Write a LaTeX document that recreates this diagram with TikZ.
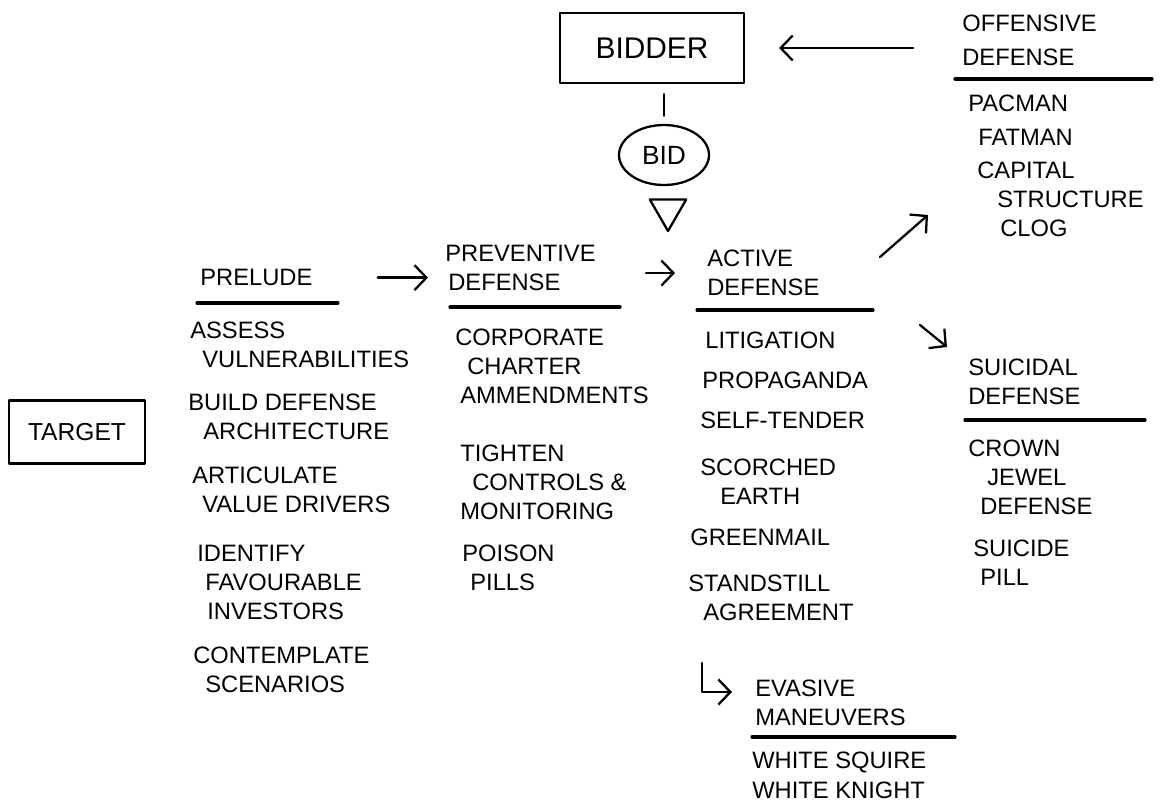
\documentclass[tikz,border=0pt]{standalone}
\usepackage{fontspec}
\setmainfont{Liberation Sans}
\usetikzlibrary{arrows.meta,shapes.geometric}

\tikzset{
  pen/.style={line width=1.3pt, line cap=round, line join=round},
  txt/.style={anchor=north west, inner sep=0pt, align=left,
    font=\fontsize{13.5}{16.4}\selectfont},
  rule/.style={line width=1.8pt, line cap=round},
  arr/.style={pen, -{Straight Barb[length=0.24cm, width=0.5cm]}},
  boxed/.style={draw, pen, inner sep=0pt},
}

\begin{document}
\begin{tikzpicture}[x=0.02cm, y=-0.02cm]
  \useasboundingbox (0,0) rectangle (1164,809);
  % bidder, bid, target
  \node[boxed, minimum width=3.68cm, minimum height=1.4cm,
    font=\fontsize{17}{20}\selectfont] (bidder) at (652,48) {BIDDER};
  \node[boxed, ellipse, minimum width=1.8cm, minimum height=1.2cm,
    font=\fontsize{15}{18}\selectfont] (bid) at (664,155) {BID};
  \node[boxed, regular polygon, regular polygon sides=3, shape border rotate=180,
    minimum size=0.84cm] (tri) at (668,210) {};
  \draw[pen, shorten <=0.2cm, shorten >=0.16cm] (bid.north |- bidder.south) -- (bid.north);
  \node[boxed, minimum width=2.72cm, minimum height=1.26cm,
    font=\fontsize{14}{17}\selectfont] (target) at (77,432) {TARGET};

  % headings
  \node[txt] (prelude) at (200,269) {PRELUDE};
  \node[txt] (prev) at (445,245) {PREVENTIVE\\\hspace*{0.06cm}DEFENSE};
  \node[txt] (act) at (707,250) {ACTIVE\\DEFENSE};
  \node[txt] (off) at (962,15) {OFFENSIVE\\[0.1cm]DEFENSE};
  \node[txt] (sui) at (968,359) {SUICIDAL\\DEFENSE};
  \node[txt] (eva) at (755,680) {EVASIVE\\MANEUVERS};
  \draw[rule] (197,303) -- (338,303);
  \draw[rule] (450,307) -- (620,307);
  \draw[rule] (697,310) -- (873,310);
  \draw[rule] (955,79) -- (1152,79);
  \draw[rule] (965,420) -- (1145,420);
  \draw[rule] (752,737) -- (955,737);

  % prelude
  \node[txt] (pre1) at (190,322) {ASSESS\\\hspace*{0.24cm}VULNERABILITIES};
  \node[txt] (pre2) at (188,394) {BUILD DEFENSE\\\hspace*{0.3cm}ARCHITECTURE};
  \node[txt] (pre3) at (192,467) {ARTICULATE\\\hspace*{0.2cm}VALUE DRIVERS};
  \node[txt] (pre4) at (197,545) {IDENTIFY\\\hspace*{0.16cm}FAVOURABLE\\\hspace*{0.2cm}INVESTORS};
  \node[txt] (pre5) at (193,647) {CONTEMPLATE\\\hspace*{0.24cm}SCENARIOS};

  % preventive defense
  \node[txt] (prev1) at (455,329) {CORPORATE\\\hspace*{0.24cm}CHARTER\\\hspace*{0.1cm}AMMENDMENTS};
  \node[txt] (prev2) at (460,445) {TIGHTEN\\\hspace*{0.24cm}CONTROLS \&\\MONITORING};
  \node[txt] (prev3) at (462,545) {POISON\\\hspace*{0.16cm}PILLS};

  % active defense
  \node[txt] (act1) at (705,332) {LITIGATION};
  \node[txt] (act2) at (702,372) {PROPAGANDA};
  \node[txt] (act3) at (700,412) {SELF-TENDER};
  \node[txt] (act4) at (700,459) {SCORCHED\\\hspace*{0.4cm}EARTH};
  \node[txt] (act5) at (690,529) {GREENMAIL};
  \node[txt] (act6) at (688,575) {STANDSTILL\\\hspace*{0.3cm}AGREEMENT};

  % offensive defense
  \node[txt] (off1) at (968,95) {PACMAN};
  \node[txt] (off2) at (978,129) {FATMAN};
  \node[txt] (off3) at (977,162) {CAPITAL\\\hspace*{0.4cm}STRUCTURE\\\hspace*{0.46cm}CLOG};

  % suicidal defense
  \node[txt] (sui1) at (968,440) {CROWN\\\hspace*{0.38cm}JEWEL\\\hspace*{0.24cm}DEFENSE};
  \node[txt] (sui2) at (973,540) {SUICIDE\\\hspace*{0.14cm}PILL};

  % evasive maneuvers
  \node[txt] (eva1) at (752,752) {WHITE SQUIRE};
  \node[txt] (eva2) at (752,782) {WHITE KNIGHT};

  % arrows
  \draw[arr, shorten <=0.98cm, shorten >=0.68cm] (off.west |- bidder.east) -- (bidder.east);
  \draw[arr, shorten <=1.3cm, shorten >=0.34cm] (prelude.east) -- (prelude.east -| prev.west);
  \draw[arr, shorten <=1.0cm, shorten >=0.64cm] ([yshift=-0.1cm]prev.east) -- ([yshift=-0.1cm]prev.east -| act.west);
  \coordinate (up) at (880,257);
  \draw[arr] (up) -- ++(48,-42);
  \coordinate (dn) at (920,325);
  \draw[arr] (dn) -- ++(27,22);
  \coordinate (ev) at (702,663);
  \draw[arr] (ev) -- ++(0,29) -- ++(30,0);
\end{tikzpicture}
\end{document}
